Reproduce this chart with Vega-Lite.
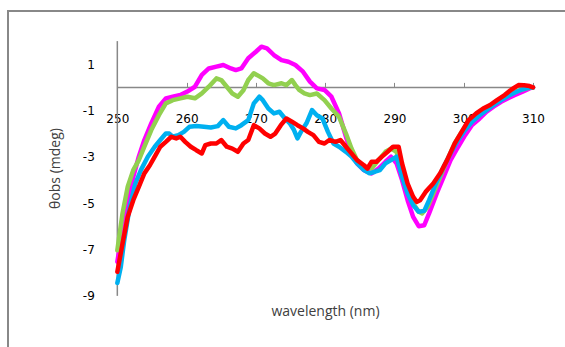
{
  "$schema": "https://vega.github.io/schema/vega-lite/v6.json",
  "autosize": {"type": "none"},
  "width": 560,
  "height": 340,
  "padding": {"left": 8, "top": 11, "right": 0, "bottom": 0},
  "background": "#ffffff",
  "config": {"view": {"stroke": "#888888", "strokeWidth": 2}},
  "datasets": {
    "curves": [
      {"s":"m","nm":250,"v":-7.53},{"s":"m","nm":250.75,"v":-6.16},{"s":"m","nm":251.5,"v":-4.87},{"s":"m","nm":252.3,"v":-3.86},{"s":"m","nm":253.1,"v":-2.99},{"s":"m","nm":253.9,"v":-2.27},{"s":"m","nm":254.9,"v":-1.55},{"s":"m","nm":256,"v":-0.83},{"s":"m","nm":257,"v":-0.47},{"s":"m","nm":258,"v":-0.4},{"s":"m","nm":259.1,"v":-0.33},{"s":"m","nm":260.1,"v":-0.18},{"s":"m","nm":261.2,"v":0.03},{"s":"m","nm":262.2,"v":0.54},{"s":"m","nm":263.2,"v":0.82},{"s":"m","nm":264.3,"v":0.9},{"s":"m","nm":265.3,"v":0.97},{"s":"m","nm":266.4,"v":0.82},{"s":"m","nm":267.1,"v":0.75},{"s":"m","nm":267.9,"v":0.82},{"s":"m","nm":268.9,"v":1.26},{"s":"m","nm":270,"v":1.54},{"s":"m","nm":270.8,"v":1.76},{"s":"m","nm":271.6,"v":1.69},{"s":"m","nm":272.6,"v":1.4},{"s":"m","nm":273.7,"v":1.18},{"s":"m","nm":274.7,"v":1.11},{"s":"m","nm":275.7,"v":0.97},{"s":"m","nm":276.8,"v":0.68},{"s":"m","nm":277.8,"v":0.25},{"s":"m","nm":278.8,"v":-0.04},{"s":"m","nm":279.9,"v":-0.11},{"s":"m","nm":280.9,"v":-0.4},{"s":"m","nm":282,"v":-1.12},{"s":"m","nm":283,"v":-2.13},{"s":"m","nm":283.8,"v":-2.85},{"s":"m","nm":284.6,"v":-3.28},{"s":"m","nm":285.6,"v":-3.57},{"s":"m","nm":286.7,"v":-3.71},{"s":"m","nm":287.7,"v":-3.5},{"s":"m","nm":288.7,"v":-3.21},{"s":"m","nm":289.5,"v":-2.99},{"s":"m","nm":290.3,"v":-3.28},{"s":"m","nm":291.1,"v":-4.0},{"s":"m","nm":291.9,"v":-4.87},{"s":"m","nm":292.7,"v":-5.59},{"s":"m","nm":293.5,"v":-5.99},{"s":"m","nm":294.3,"v":-5.95},{"s":"m","nm":295,"v":-5.44},{"s":"m","nm":296.1,"v":-4.58},{"s":"m","nm":297.1,"v":-3.86},{"s":"m","nm":298.1,"v":-3.14},{"s":"m","nm":299.2,"v":-2.56},{"s":"m","nm":300.2,"v":-2.06},{"s":"m","nm":301.2,"v":-1.62},{"s":"m","nm":302.3,"v":-1.34},{"s":"m","nm":303.3,"v":-1.05},{"s":"m","nm":304.3,"v":-0.83},{"s":"m","nm":305.4,"v":-0.62},{"s":"m","nm":306.4,"v":-0.47},{"s":"m","nm":307.4,"v":-0.33},{"s":"m","nm":308.5,"v":-0.18},{"s":"m","nm":309.5,"v":-0.04},{"s":"m","nm":310,"v":0.0},
      {"s":"g","nm":250,"v":-7.03},{"s":"g","nm":250.75,"v":-5.44},{"s":"g","nm":251.5,"v":-4.29},{"s":"g","nm":252.3,"v":-3.57},{"s":"g","nm":253.1,"v":-3.14},{"s":"g","nm":253.9,"v":-2.56},{"s":"g","nm":254.9,"v":-1.84},{"s":"g","nm":256,"v":-1.2},{"s":"g","nm":257,"v":-0.69},{"s":"g","nm":258,"v":-0.55},{"s":"g","nm":259.1,"v":-0.47},{"s":"g","nm":260.1,"v":-0.4},{"s":"g","nm":261.2,"v":-0.47},{"s":"g","nm":262.2,"v":-0.26},{"s":"g","nm":263.2,"v":0.03},{"s":"g","nm":264.3,"v":0.39},{"s":"g","nm":265,"v":0.32},{"s":"g","nm":265.8,"v":0.03},{"s":"g","nm":266.6,"v":-0.26},{"s":"g","nm":267.4,"v":-0.4},{"s":"g","nm":268.2,"v":-0.12},{"s":"g","nm":268.9,"v":0.32},{"s":"g","nm":269.7,"v":0.61},{"s":"g","nm":270.2,"v":0.53},{"s":"g","nm":271,"v":0.39},{"s":"g","nm":271.8,"v":0.18},{"s":"g","nm":272.6,"v":0.1},{"s":"g","nm":273.7,"v":0.18},{"s":"g","nm":274.4,"v":0.1},{"s":"g","nm":275.2,"v":0.32},{"s":"g","nm":275.7,"v":0.1},{"s":"g","nm":276.3,"v":-0.12},{"s":"g","nm":277,"v":-0.26},{"s":"g","nm":277.8,"v":-0.33},{"s":"g","nm":278.8,"v":-0.26},{"s":"g","nm":279.9,"v":-0.55},{"s":"g","nm":280.9,"v":-0.91},{"s":"g","nm":282,"v":-1.27},{"s":"g","nm":283,"v":-1.99},{"s":"g","nm":283.8,"v":-2.64},{"s":"g","nm":284.6,"v":-3.14},{"s":"g","nm":285.6,"v":-3.43},{"s":"g","nm":286.7,"v":-3.5},{"s":"g","nm":287.7,"v":-3.14},{"s":"g","nm":288.7,"v":-2.78},{"s":"g","nm":289.5,"v":-2.64},{"s":"g","nm":290.3,"v":-2.78},{"s":"g","nm":291.1,"v":-3.71},{"s":"g","nm":291.9,"v":-4.43},{"s":"g","nm":292.7,"v":-5.01},{"s":"g","nm":293.5,"v":-5.37},{"s":"g","nm":294,"v":-5.44},{"s":"g","nm":294.8,"v":-5.15},{"s":"g","nm":295.6,"v":-4.58},{"s":"g","nm":296.6,"v":-3.86},{"s":"g","nm":297.6,"v":-3.14},{"s":"g","nm":298.7,"v":-2.42},{"s":"g","nm":299.7,"v":-1.92},{"s":"g","nm":300.7,"v":-1.48},{"s":"g","nm":301.8,"v":-1.27},{"s":"g","nm":302.8,"v":-1.05},{"s":"g","nm":303.8,"v":-0.83},{"s":"g","nm":304.8,"v":-0.62},{"s":"g","nm":305.9,"v":-0.4},{"s":"g","nm":306.9,"v":-0.26},{"s":"g","nm":307.9,"v":-0.14},{"s":"g","nm":309,"v":-0.04},{"s":"g","nm":310,"v":0.0},
      {"s":"c","nm":250,"v":-8.44},{"s":"c","nm":250.5,"v":-7.75},{"s":"c","nm":251,"v":-6.59},{"s":"c","nm":251.8,"v":-5.15},{"s":"c","nm":252.6,"v":-4.15},{"s":"c","nm":253.4,"v":-3.57},{"s":"c","nm":254.4,"v":-2.99},{"s":"c","nm":255.4,"v":-2.56},{"s":"c","nm":256.2,"v":-2.27},{"s":"c","nm":257,"v":-1.99},{"s":"c","nm":257.5,"v":-1.99},{"s":"c","nm":258,"v":-2.13},{"s":"c","nm":258.8,"v":-2.06},{"s":"c","nm":259.6,"v":-1.92},{"s":"c","nm":260.4,"v":-1.7},{"s":"c","nm":261.4,"v":-1.67},{"s":"c","nm":262.5,"v":-1.7},{"s":"c","nm":263.5,"v":-1.73},{"s":"c","nm":264.5,"v":-1.67},{"s":"c","nm":265.3,"v":-1.41},{"s":"c","nm":266.1,"v":-1.7},{"s":"c","nm":267.1,"v":-1.77},{"s":"c","nm":267.9,"v":-1.63},{"s":"c","nm":268.9,"v":-1.41},{"s":"c","nm":269.7,"v":-0.69},{"s":"c","nm":270.5,"v":-0.4},{"s":"c","nm":271,"v":-0.55},{"s":"c","nm":271.8,"v":-0.91},{"s":"c","nm":272.6,"v":-1.12},{"s":"c","nm":273.4,"v":-1.05},{"s":"c","nm":274.2,"v":-1.34},{"s":"c","nm":274.9,"v":-1.55},{"s":"c","nm":275.5,"v":-1.84},{"s":"c","nm":276,"v":-2.2},{"s":"c","nm":276.5,"v":-1.92},{"s":"c","nm":277.3,"v":-1.55},{"s":"c","nm":278.1,"v":-0.98},{"s":"c","nm":278.8,"v":-1.2},{"s":"c","nm":279.6,"v":-1.34},{"s":"c","nm":280.4,"v":-1.92},{"s":"c","nm":281.2,"v":-2.42},{"s":"c","nm":282,"v":-2.56},{"s":"c","nm":283,"v":-2.78},{"s":"c","nm":283.8,"v":-2.99},{"s":"c","nm":284.6,"v":-3.28},{"s":"c","nm":285.6,"v":-3.57},{"s":"c","nm":286.4,"v":-3.71},{"s":"c","nm":287.2,"v":-3.64},{"s":"c","nm":287.9,"v":-3.57},{"s":"c","nm":288.7,"v":-3.28},{"s":"c","nm":289.5,"v":-3.14},{"s":"c","nm":290.3,"v":-2.99},{"s":"c","nm":291.1,"v":-3.86},{"s":"c","nm":291.9,"v":-4.58},{"s":"c","nm":292.7,"v":-5.08},{"s":"c","nm":293.5,"v":-5.37},{"s":"c","nm":294.3,"v":-5.33},{"s":"c","nm":295,"v":-4.87},{"s":"c","nm":296.1,"v":-4.07},{"s":"c","nm":297.1,"v":-3.43},{"s":"c","nm":298.1,"v":-2.85},{"s":"c","nm":299.2,"v":-2.27},{"s":"c","nm":300.2,"v":-1.84},{"s":"c","nm":301.2,"v":-1.48},{"s":"c","nm":302.3,"v":-1.2},{"s":"c","nm":303.3,"v":-0.98},{"s":"c","nm":304.3,"v":-0.76},{"s":"c","nm":305.4,"v":-0.55},{"s":"c","nm":306.4,"v":-0.37},{"s":"c","nm":307.4,"v":-0.22},{"s":"c","nm":308.5,"v":-0.08},{"s":"c","nm":309.5,"v":-0.01},{"s":"c","nm":310,"v":0.0},
      {"s":"r","nm":250,"v":-7.96},{"s":"r","nm":250.75,"v":-6.74},{"s":"r","nm":251.5,"v":-5.59},{"s":"r","nm":252.3,"v":-4.87},{"s":"r","nm":253.1,"v":-4.29},{"s":"r","nm":253.9,"v":-3.71},{"s":"r","nm":254.7,"v":-3.36},{"s":"r","nm":255.4,"v":-2.99},{"s":"r","nm":256.2,"v":-2.56},{"s":"r","nm":257,"v":-2.35},{"s":"r","nm":257.8,"v":-2.13},{"s":"r","nm":258.5,"v":-2.2},{"s":"r","nm":259.1,"v":-2.13},{"s":"r","nm":259.8,"v":-2.35},{"s":"r","nm":260.6,"v":-2.56},{"s":"r","nm":261.4,"v":-2.71},{"s":"r","nm":262.2,"v":-2.85},{"s":"r","nm":262.7,"v":-2.49},{"s":"r","nm":263.5,"v":-2.42},{"s":"r","nm":264.3,"v":-2.42},{"s":"r","nm":265,"v":-2.27},{"s":"r","nm":265.8,"v":-2.56},{"s":"r","nm":266.6,"v":-2.64},{"s":"r","nm":267.4,"v":-2.78},{"s":"r","nm":268.2,"v":-2.42},{"s":"r","nm":268.9,"v":-2.27},{"s":"r","nm":269.7,"v":-1.63},{"s":"r","nm":270.5,"v":-1.77},{"s":"r","nm":271.3,"v":-1.99},{"s":"r","nm":272.1,"v":-2.13},{"s":"r","nm":272.8,"v":-1.99},{"s":"r","nm":273.6,"v":-1.63},{"s":"r","nm":274.4,"v":-1.34},{"s":"r","nm":275.2,"v":-1.48},{"s":"r","nm":276,"v":-1.63},{"s":"r","nm":276.8,"v":-1.77},{"s":"r","nm":277.5,"v":-1.92},{"s":"r","nm":278.3,"v":-2.06},{"s":"r","nm":279.1,"v":-2.35},{"s":"r","nm":279.9,"v":-2.42},{"s":"r","nm":280.6,"v":-2.27},{"s":"r","nm":281.5,"v":-2.35},{"s":"r","nm":282.2,"v":-2.27},{"s":"r","nm":283,"v":-2.56},{"s":"r","nm":283.8,"v":-2.85},{"s":"r","nm":284.6,"v":-3.14},{"s":"r","nm":285.6,"v":-3.36},{"s":"r","nm":286.1,"v":-3.5},{"s":"r","nm":286.7,"v":-3.21},{"s":"r","nm":287.4,"v":-3.21},{"s":"r","nm":288.2,"v":-2.99},{"s":"r","nm":289,"v":-2.78},{"s":"r","nm":289.8,"v":-2.56},{"s":"r","nm":290.6,"v":-2.56},{"s":"r","nm":291.1,"v":-3.28},{"s":"r","nm":291.9,"v":-4.15},{"s":"r","nm":292.7,"v":-4.72},{"s":"r","nm":293.2,"v":-4.94},{"s":"r","nm":293.7,"v":-4.87},{"s":"r","nm":294.5,"v":-4.51},{"s":"r","nm":295.6,"v":-4.15},{"s":"r","nm":296.6,"v":-3.71},{"s":"r","nm":297.6,"v":-3.14},{"s":"r","nm":298.7,"v":-2.42},{"s":"r","nm":299.7,"v":-1.92},{"s":"r","nm":300.7,"v":-1.41},{"s":"r","nm":301.8,"v":-1.12},{"s":"r","nm":302.8,"v":-0.91},{"s":"r","nm":303.8,"v":-0.76},{"s":"r","nm":304.8,"v":-0.55},{"s":"r","nm":305.9,"v":-0.33},{"s":"r","nm":306.9,"v":-0.09},{"s":"r","nm":307.9,"v":0.1},{"s":"r","nm":308.7,"v":0.09},{"s":"r","nm":309.5,"v":0.06},{"s":"r","nm":310,"v":0.0}
    ]
  },
  "layer": [
    {
      "data": {"values": [{"x1": 250, "x2": 310, "y": 0}]},
      "mark": {"type": "rule", "color": "#888888", "strokeWidth": 1.5},
      "encoding": {
        "x": {"field": "x1", "type": "quantitative"},
        "x2": {"field": "x2"},
        "y": {"field": "y", "type": "quantitative"}
      }
    },
    {
      "data": {"values": [{"x": 250, "y1": -9, "y2": 2}]},
      "mark": {"type": "rule", "color": "#888888", "strokeWidth": 1.5},
      "encoding": {
        "x": {"field": "x", "type": "quantitative"},
        "y": {"field": "y1", "type": "quantitative"},
        "y2": {"field": "y2"}
      }
    },
    {
      "data": {"name": "curves"},
      "mark": {"type": "line", "strokeWidth": 4.5, "strokeJoin": "round", "strokeCap": "round"},
      "encoding": {
        "x": {
          "field": "nm", "type": "quantitative",
          "scale": {"domain": [234.22, 315.05], "nice": false, "zero": false},
          "axis": {
            "values": [250, 260, 270, 280, 290, 300, 310],
            "offset": -263.6,
            "domain": false, "grid": false,
            "tickSize": -5, "tickColor": "#888888", "tickWidth": 1,
            "labelFont": "DejaVu Sans", "labelFontSize": 12, "labelColor": "#000000",
            "labelPadding": 31,
            "title": "wavelength (nm)",
            "titleFont": "Open Sans", "titleFontSize": 14, "titleFontWeight": "normal", "titleColor": "#404040",
            "titleX": 317, "titleY": 224, "titleBaseline": "middle"
          }
        },
        "y": {
          "field": "v", "type": "quantitative",
          "scale": {"domain": [-11.38, 3.3], "nice": false, "zero": false},
          "axis": {
            "values": [-9, -7, -5, -3, -1, 1],
            "labelExpr": "'' + datum.value",
            "offset": -109.3,
            "domain": false, "grid": false, "ticks": false,
            "labelFont": "DejaVu Sans", "labelFontSize": 12, "labelColor": "#000000",
            "labelPadding": 23,
            "title": "θobs (mdeg)",
            "titleFont": "Open Sans", "titleFontSize": 14, "titleFontWeight": "normal", "titleColor": "#404040",
            "titleX": -62, "titleY": 157, "titleBaseline": "middle"
          }
        },
        "color": {
          "field": "s", "type": "nominal", "legend": null,
          "scale": {"domain": ["m", "g", "c", "r"], "range": ["#FF00FF", "#92D050", "#00B0F0", "#FF0000"]}
        },
        "order": {"field": "nm", "type": "quantitative"}
      }
    }
  ]
}
